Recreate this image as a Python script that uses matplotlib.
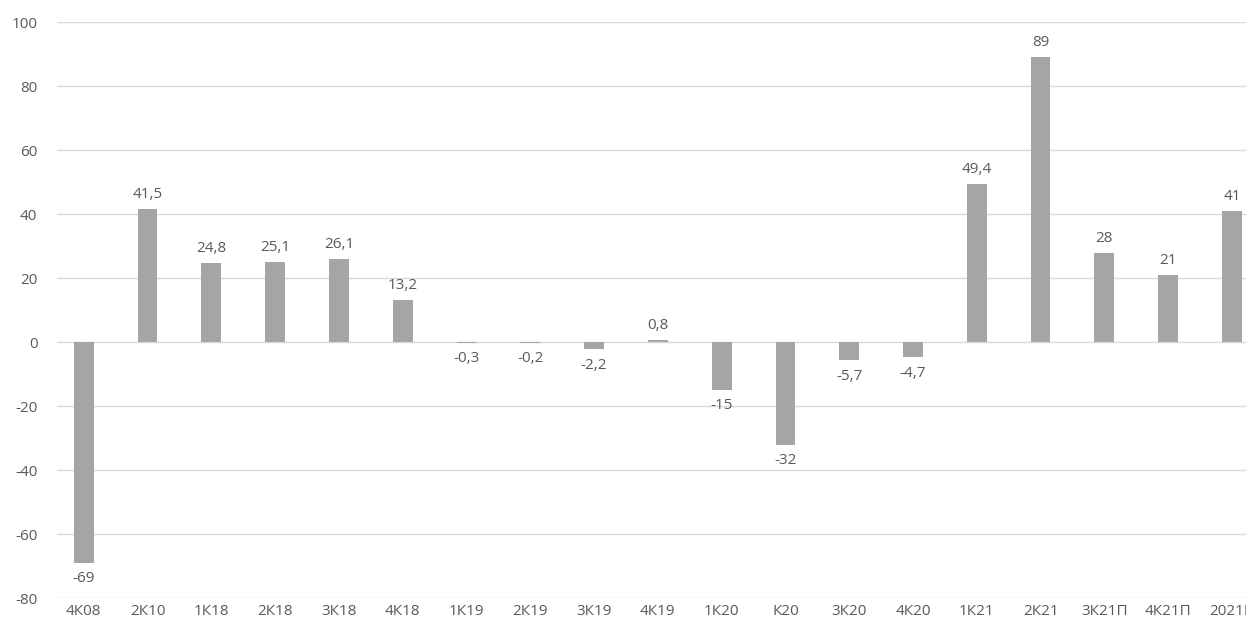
import matplotlib.pyplot as plt

categories = ['4К08', '2К10', '1К18', '2К18', '3К18', '4К18', '1К19', '2К19', '3К19', '4К19',
              '1К20', 'К20', '3К20', '4К20', '1К21', '2К21', '3К21П', '4К21П', '2021П']
values = [-69, 41.5, 24.8, 25.1, 26.1, 13.2, -0.3, -0.2, -2.2, 0.8,
          -15, -32, -5.7, -4.7, 49.4, 89, 28, 21, 41]
labels = ['-69', '41,5', '24,8', '25,1', '26,1', '13,2', '-0,3', '-0,2', '-2,2', '0,8',
          '-15', '-32', '-5,7', '-4,7', '49,4', '89', '28', '21', '41']

plt.rcParams['font.family'] = ['Open Sans', 'DejaVu Sans']
plt.rcParams['axes.unicode_minus'] = False
txt = '#595959'

fig = plt.figure(figsize=(12.46, 6.31), dpi=100)
ax = fig.add_axes([0.0457, 0.052, 0.9543, 0.913])

x = range(len(categories))
ax.bar(x, values, width=0.31, color='#A5A5A5', zorder=3)

for i, (v, lab) in enumerate(zip(values, labels)):
    if v >= 0:
        ax.annotate(lab, (i, v), xytext=(0, 5), textcoords='offset points',
                    ha='center', va='bottom', fontsize=11, color=txt)
    else:
        ax.annotate(lab, (i, v), xytext=(0, -6), textcoords='offset points',
                    ha='center', va='top', fontsize=11, color=txt)

ax.set_ylim(-80, 100)
ax.set_yticks(range(-80, 101, 20))
ax.set_xlim(-0.42, 18.22)
ax.set_xticks(list(x))
ax.set_xticklabels(categories)
ax.grid(axis='y', color='#D9D9D9', linewidth=1, zorder=0)
for s in ax.spines.values():
    s.set_visible(False)
ax.tick_params(axis='both', length=0, labelsize=11, colors=txt)
ax.tick_params(axis='x', pad=4)
ax.tick_params(axis='y', pad=14)

fig.savefig('out.png', dpi=100)
